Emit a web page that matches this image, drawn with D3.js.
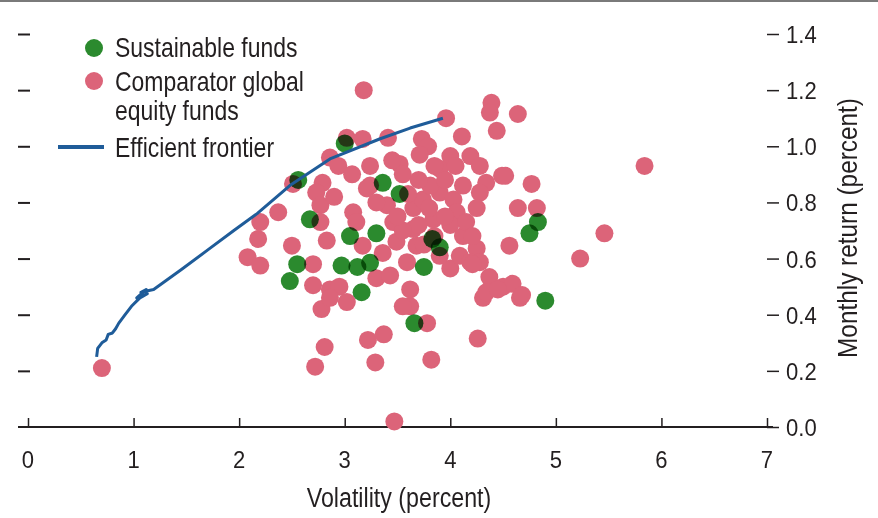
<!DOCTYPE html>
<html>
  <head>
    <meta charset="UTF-8" />
    <title>Sustainable funds vs efficient frontier</title>
    <style>
      body { margin: 0; background: #fff; }
      svg { display: block; }
      text {
        font-family: "Liberation Sans", Arial, sans-serif;
        fill: #231f20;
      }
    </style>
  </head>
  <body>
    <svg></svg>
    <script src="https://d3js.org/d3.v7.min.js"></script>
    <script>
      // volatility (x) vs monthly return (y), both in percent
      var sustainable = [
        [2.56, 0.88], [3.0, 1.01], [3.36, 0.87], [3.52, 0.83], [2.67, 0.74],
        [3.05, 0.68], [3.3, 0.69], [3.83, 0.67], [3.9, 0.64], [2.55, 0.58],
        [2.48, 0.52], [2.97, 0.575], [3.12, 0.57], [3.24, 0.585], [3.16, 0.48],
        [3.75, 0.57], [3.66, 0.37], [4.83, 0.73], [4.75, 0.69], [4.9, 0.45]
      ];
      var comparator = [
        [0.7, 0.21], [3.18, 1.2], [3.41, 1.03], [3.96, 1.1], [4.39, 1.155],
        [4.375, 1.12], [4.64, 1.115], [4.44, 1.055], [4.11, 1.035], [3.73, 1.026],
        [3.79, 1.0], [3.71, 0.97], [4.0, 0.965], [4.19, 0.965], [3.52, 0.937],
        [3.9, 0.92], [4.28, 0.93], [4.49, 0.895], [4.34, 0.87], [4.77, 0.866],
        [3.02, 1.03], [3.17, 1.026], [2.86, 0.96], [2.94, 0.93], [3.07, 0.9],
        [3.24, 0.93], [2.79, 0.87], [2.51, 0.866], [3.24, 0.86], [2.73, 0.835],
        [2.77, 0.79], [2.37, 0.765], [2.2, 0.73], [2.18, 0.67], [2.77, 0.73],
        [2.83, 0.664], [2.5, 0.646], [2.08, 0.605], [2.2, 0.575], [3.08, 0.765],
        [3.11, 0.73], [3.17, 0.646], [2.7, 0.58], [2.7, 0.505], [2.86, 0.49],
        [2.95, 0.5], [3.3, 0.53], [3.21, 0.85], [2.78, 0.42], [3.02, 0.445],
        [2.86, 0.46], [2.81, 0.285], [2.72, 0.215], [3.22, 0.31], [3.29, 0.23],
        [3.37, 0.33], [3.47, 0.02], [3.62, 0.43], [3.55, 0.43], [3.78, 0.37],
        [3.82, 0.24], [4.26, 0.315], [4.31, 0.46], [4.66, 0.46], [4.52, 0.895],
        [4.64, 0.78], [4.82, 0.78], [4.56, 0.646], [5.46, 0.69], [5.23, 0.6],
        [5.84, 0.93], [4.5, 0.5], [4.59, 0.51], [4.68, 0.47], [4.28, 0.835],
        [4.25, 0.78], [4.25, 0.636], [4.28, 0.587], [4.37, 0.534], [4.34, 0.48],
        [3.62, 0.49], [3.43, 0.54], [3.36, 0.62], [3.59, 0.587], [4.0, 0.565],
        [3.9, 0.61], [4.09, 0.61], [4.19, 0.587], [3.49, 0.66], [3.68, 0.646],
        [3.65, 0.705], [3.46, 0.73], [3.4, 0.79], [3.65, 0.78], [3.74, 0.81],
        [3.9, 0.835], [4.03, 0.81], [4.06, 0.765], [4.0, 0.72], [3.84, 0.74],
        [4.12, 0.68], [4.15, 0.73], [4.21, 0.68], [3.81, 0.86], [4.12, 0.86],
        [4.21, 0.58], [4.45, 0.49], [3.55, 0.9], [3.7, 0.88], [3.85, 0.93],
        [3.95, 0.88], [4.05, 0.93], [3.6, 0.83], [3.8, 0.78], [3.95, 0.75],
        [3.7, 0.72], [3.55, 0.7], [3.85, 0.68], [3.75, 0.65], [3.45, 0.95],
        [3.3, 0.8], [3.5, 0.75], [2.9, 0.82]
      ];
      var frontier = [
        [0.65, 0.25], [0.66, 0.28], [0.7, 0.3], [0.74, 0.31], [0.76, 0.33],
        [0.8, 0.335], [0.83, 0.35], [0.86, 0.37], [0.92, 0.4], [0.98, 0.43],
        [1.06, 0.46], [1.13, 0.475], [1.03, 0.46], [1.12, 0.49], [1.07, 0.48],
        [1.19, 0.49], [1.45, 0.56], [1.7, 0.63], [1.95, 0.7], [2.17, 0.76],
        [2.48, 0.86], [2.86, 0.955], [3.33, 1.026], [3.62, 1.065], [3.93, 1.1]
      ];
      var xTicks = [0, 1, 2, 3, 4, 5, 6, 7];
      var yTicks = [0, 0.2, 0.4, 0.6, 0.8, 1.0, 1.2, 1.4];

      var width = 878, height = 518;
      var pink = "#dc6479", green = "#2b8a2e", blue = "#1f5c99", ink = "#231f20";

      var svg = d3.select("svg").attr("width", width).attr("height", height);

      var x = d3.scaleLinear().domain([0, 7]).range([28, 767]);
      var y = d3.scaleLinear().domain([0, 1.4]).range([427, 34]);

      // condensed look: squeeze Liberation Sans horizontally
      function label(parent, tx, ty, str, size, sx, extra) {
        return parent.append("text")
          .attr("transform", "translate(" + tx + "," + ty + ")" + (extra || "") + " scale(" + sx + ",1)")
          .attr("font-size", size)
          .text(str);
      }

      // grey rule at the very top
      svg.append("rect").attr("x", 0).attr("y", 0).attr("width", width).attr("height", 2).attr("fill", "#7a7a7a");

      // left unlabelled dashes
      var leftAxis = svg.append("g")
        .attr("transform", "translate(30,0)")
        .call(d3.axisLeft(y).tickValues(yTicks.slice(1)).tickSize(12).tickFormat(""));
      leftAxis.select(".domain").remove();
      leftAxis.selectAll("line").attr("stroke", ink).attr("stroke-width", 2);

      // right axis with labels
      var rightAxis = svg.append("g")
        .attr("transform", "translate(" + x(7) + ",0)")
        .call(d3.axisRight(y).tickValues(yTicks).tickSize(12).tickFormat(""));
      rightAxis.select(".domain").remove();
      rightAxis.selectAll("line").attr("stroke", ink).attr("stroke-width", 1.5);
      yTicks.forEach(function (v) {
        label(svg, x(7) + 19, y(v) + 9, d3.format(".1f")(v), 24, 0.92);
      });

      // bottom axis, ticks pointing up
      var bottomAxis = svg.append("g")
        .attr("transform", "translate(0," + y(0) + ")")
        .call(d3.axisBottom(x).tickValues(xTicks).tickSize(-9).tickFormat(""));
      bottomAxis.select(".domain").remove();
      bottomAxis.append("line")
        .attr("x1", x(0) - 10).attr("x2", x(7) + 6)
        .attr("stroke", ink).attr("stroke-width", 1.8);
      bottomAxis.selectAll(".tick line").attr("stroke", ink).attr("stroke-width", 1.5);
      xTicks.forEach(function (v) {
        label(svg, x(v), y(0) + 41, String(v), 24, 0.92).attr("text-anchor", "middle");
      });

      // points
      svg.append("g").selectAll("circle")
        .data(comparator).enter().append("circle")
        .attr("cx", function (d) { return x(d[0]); })
        .attr("cy", function (d) { return y(d[1]); })
        .attr("r", 9)
        .attr("fill", pink);

      svg.append("g").selectAll("circle")
        .data(sustainable).enter().append("circle")
        .attr("cx", function (d) { return x(d[0]); })
        .attr("cy", function (d) { return y(d[1]); })
        .attr("r", 9)
        .attr("fill", green)
        .style("mix-blend-mode", "multiply");

      // efficient frontier
      var line = d3.line().x(function (d) { return x(d[0]); }).y(function (d) { return y(d[1]); });
      svg.append("path")
        .datum(frontier)
        .attr("d", line)
        .attr("fill", "none")
        .attr("stroke", blue)
        .attr("stroke-width", 3)
        .attr("stroke-linejoin", "round");

      // axis titles
      label(svg, 399, 507, "Volatility (percent)", 28, 0.83).attr("text-anchor", "middle");
      label(svg, 857, 228, "Monthly return (percent)", 28, 0.87, " rotate(-90)").attr("text-anchor", "middle");

      // legend
      var legend = svg.append("g");
      legend.append("circle").attr("cx", 94).attr("cy", 48).attr("r", 9).attr("fill", green);
      label(legend, 115, 57, "Sustainable funds", 28, 0.82);
      legend.append("circle").attr("cx", 94).attr("cy", 81).attr("r", 9).attr("fill", pink);
      label(legend, 115, 91, "Comparator global", 28, 0.82);
      label(legend, 115, 120, "equity funds", 28, 0.82);
      legend.append("line").attr("x1", 58).attr("x2", 104).attr("y1", 147).attr("y2", 147)
        .attr("stroke", blue).attr("stroke-width", 4);
      label(legend, 115, 157, "Efficient frontier", 28, 0.82);
    </script>
  </body>
</html>
